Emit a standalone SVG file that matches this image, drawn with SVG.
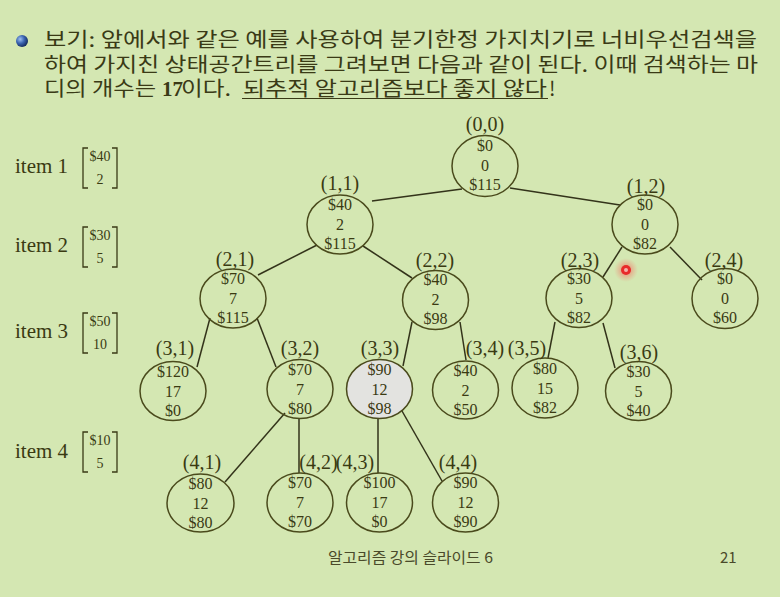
<svg xmlns="http://www.w3.org/2000/svg" width="780" height="597" viewBox="0 0 780 597">
<defs>
<style>
.bg{fill:#d4e7b2}
.kr{font-family:"Noto Sans CJK KR","Noto Sans",sans-serif;fill:#3a3a16}
.kt{font-size:20px}
.ft{font-size:15px;fill:#4a4a2a}
.lbl{font-family:"Liberation Serif",serif;fill:#3a3a12;font-size:20px;text-anchor:middle}
.val{font-family:"Liberation Serif",serif;fill:#3a3a12;font-size:16px;text-anchor:middle}
.item{font-family:"Liberation Serif",serif;fill:#3a3a12;font-size:21px}
.bv{font-family:"Liberation Serif",serif;fill:#3a3a12;font-size:14px;text-anchor:middle}
.ell{fill:none;stroke:#4a4a1c;stroke-width:1.5}
.gray{fill:#e3e3e0}
.edge{stroke:#33331a;stroke-width:1.5;fill:none}
.br{stroke:#3a3a16;stroke-width:1.3;fill:none}
</style>
<radialGradient id="ball" cx="0.35" cy="0.35" r="0.7">
<stop offset="0" stop-color="#9ec0f0"/>
<stop offset="0.5" stop-color="#3a64b0"/>
<stop offset="1" stop-color="#12285a"/>
</radialGradient>
<radialGradient id="glow" cx="0.5" cy="0.5" r="0.5">
<stop offset="0" stop-color="#ff3030" stop-opacity="0.6"/>
<stop offset="1" stop-color="#ff6060" stop-opacity="0"/>
</radialGradient>
</defs>
<rect class="bg" x="0" y="0" width="780" height="597"/>

<g id="header">
<circle cx="22" cy="41" r="6" fill="url(#ball)"/>
<text class="kr kt" x="44" y="47" textLength="713" lengthAdjust="spacingAndGlyphs">보기: 앞에서와 같은 예를 사용하여 분기한정 가지치기로 너비우선검색을</text>
<text class="kr kt" x="44" y="72" textLength="714" lengthAdjust="spacingAndGlyphs">하여 가지친 상태공간트리를 그려보면 다음과 같이 된다. 이때 검색하는 마</text>
<text class="kr kt" y="96"><tspan x="44" textLength="112" lengthAdjust="spacingAndGlyphs">디의 개수는</tspan><tspan x="162" style="font-family:'Liberation Serif',serif;font-weight:bold;font-size:21px">17</tspan><tspan x="181" textLength="50" lengthAdjust="spacingAndGlyphs">이다.</tspan><tspan x="243" textLength="304" lengthAdjust="spacingAndGlyphs">되추적 알고리즘보다 좋지 않다</tspan><tspan x="549">!</tspan></text>
<line x1="242" y1="98.5" x2="548" y2="98.5" stroke="#3a3a16" stroke-width="1.2"/>
</g>

<g id="items">
<text class="item" x="15" y="173">item 1</text>
<path class="br" d="M88,148 H83 V188 H88 M112,148 H117 V188 H112"/>
<text class="bv" x="100" y="161">$40</text>
<text class="bv" x="100" y="184">2</text>
<text class="item" x="15" y="252">item 2</text>
<path class="br" d="M88,227 H83 V267 H88 M112,227 H117 V267 H112"/>
<text class="bv" x="100" y="240">$30</text>
<text class="bv" x="100" y="263">5</text>
<text class="item" x="15" y="338">item 3</text>
<path class="br" d="M88,313 H83 V353 H88 M112,313 H117 V353 H112"/>
<text class="bv" x="100" y="326">$50</text>
<text class="bv" x="100" y="349">10</text>
<text class="item" x="15" y="458">item 4</text>
<path class="br" d="M88,432 H83 V472 H88 M112,432 H117 V472 H112"/>
<text class="bv" x="100" y="445">$10</text>
<text class="bv" x="100" y="468">5</text>
</g>

<g id="connectors">
<line class="edge" x1="462" y1="189" x2="372" y2="201"/>
<line class="edge" x1="510" y1="188" x2="620" y2="205"/>
<line class="edge" x1="317" y1="245" x2="258" y2="275"/>
<line class="edge" x1="363" y1="246" x2="412" y2="278"/>
<line class="edge" x1="622" y1="247" x2="603" y2="277"/>
<line class="edge" x1="670" y1="247" x2="702" y2="280"/>
<line class="edge" x1="210" y1="318" x2="197" y2="367"/>
<line class="edge" x1="257" y1="318" x2="276" y2="367"/>
<line class="edge" x1="412" y1="322" x2="403" y2="366"/>
<line class="edge" x1="460" y1="322" x2="466" y2="360"/>
<line class="edge" x1="555" y1="322" x2="548" y2="358"/>
<line class="edge" x1="603" y1="323" x2="615" y2="368"/>
<line class="edge" x1="285" y1="413" x2="225" y2="482"/>
<line class="edge" x1="299" y1="418" x2="299" y2="473"/>
<line class="edge" x1="378" y1="418" x2="378" y2="473"/>
<line class="edge" x1="402" y1="411" x2="442" y2="481"/>
</g>

<g id="n00"><ellipse class="ell" cx="485" cy="166" rx="33" ry="30.5"/><text class="lbl" x="485" y="131">(0,0)</text><text class="val" x="485" y="151">$0</text><text class="val" x="485" y="171">0</text><text class="val" x="485" y="190">$115</text></g>
<g id="n11"><ellipse class="ell" cx="340" cy="224.5" rx="33" ry="29.5"/><text class="lbl" x="340" y="190">(1,1)</text><text class="val" x="340" y="210">$40</text><text class="val" x="340" y="230">2</text><text class="val" x="340" y="249">$115</text></g>
<g id="n12"><ellipse class="ell" cx="645" cy="224.5" rx="33" ry="29.5"/><text class="lbl" x="646" y="193">(1,2)</text><text class="val" x="645" y="210">$0</text><text class="val" x="645" y="230">0</text><text class="val" x="645" y="249">$82</text></g>
<g id="n21"><ellipse class="ell" cx="233" cy="298.5" rx="33" ry="29.5"/><text class="lbl" x="235" y="266">(2,1)</text><text class="val" x="233" y="284">$70</text><text class="val" x="233" y="304">7</text><text class="val" x="233" y="323">$115</text></g>
<g id="n22"><ellipse class="ell" cx="435.5" cy="300" rx="33" ry="29.5"/><text class="lbl" x="435" y="267">(2,2)</text><text class="val" x="435.5" y="285">$40</text><text class="val" x="435.5" y="305">2</text><text class="val" x="435.5" y="324">$98</text></g>
<g id="n23"><ellipse class="ell" cx="579" cy="298" rx="33" ry="29.5"/><text class="lbl" x="580" y="267">(2,3)</text><text class="val" x="579" y="284">$30</text><text class="val" x="579" y="304">5</text><text class="val" x="579" y="323">$82</text></g>
<g id="n24"><ellipse class="ell" cx="725" cy="298.5" rx="33" ry="30"/><text class="lbl" x="724" y="267">(2,4)</text><text class="val" x="725" y="284">$0</text><text class="val" x="725" y="304">0</text><text class="val" x="725" y="323">$60</text></g>
<g id="n31"><ellipse class="ell" cx="173" cy="391" rx="33" ry="29.5"/><text class="lbl" x="175" y="355">(3,1)</text><text class="val" x="173" y="377">$120</text><text class="val" x="173" y="397">17</text><text class="val" x="173" y="416">$0</text></g>
<g id="n32"><ellipse class="ell" cx="300" cy="389" rx="33" ry="29.5"/><text class="lbl" x="300" y="355">(3,2)</text><text class="val" x="300" y="375">$70</text><text class="val" x="300" y="395">7</text><text class="val" x="300" y="414">$80</text></g>
<g id="n33"><ellipse class="ell gray" cx="379.5" cy="389" rx="33" ry="29.5"/><text class="lbl" x="380" y="355">(3,3)</text><text class="val" x="379.5" y="375">$90</text><text class="val" x="379.5" y="395">12</text><text class="val" x="379.5" y="414">$98</text></g>
<g id="n34"><ellipse class="ell" cx="465.5" cy="390" rx="33" ry="29"/><text class="lbl" x="485" y="355">(3,4)</text><text class="val" x="465.5" y="376">$40</text><text class="val" x="465.5" y="396">2</text><text class="val" x="465.5" y="415">$50</text></g>
<g id="n35"><ellipse class="ell" cx="545" cy="388" rx="33" ry="30"/><text class="lbl" x="527" y="355">(3,5)</text><text class="val" x="545" y="374">$80</text><text class="val" x="545" y="394">15</text><text class="val" x="545" y="413">$82</text></g>
<g id="n36"><ellipse class="ell" cx="638.5" cy="391" rx="33" ry="29.5"/><text class="lbl" x="639" y="359">(3,6)</text><text class="val" x="638.5" y="377">$30</text><text class="val" x="638.5" y="397">5</text><text class="val" x="638.5" y="416">$40</text></g>
<g id="n41"><ellipse class="ell" cx="200.5" cy="503" rx="33.5" ry="29"/><text class="lbl" x="202" y="469">(4,1)</text><text class="val" x="200.5" y="489">$80</text><text class="val" x="200.5" y="509">12</text><text class="val" x="200.5" y="528">$80</text></g>
<g id="n42"><ellipse class="ell" cx="300" cy="502.5" rx="33" ry="29.5"/><text class="lbl" x="318.5" y="469">(4,2)</text><text class="val" x="300" y="488">$70</text><text class="val" x="300" y="508">7</text><text class="val" x="300" y="527">$70</text></g>
<g id="n43"><ellipse class="ell" cx="379.5" cy="502.5" rx="33" ry="29.5"/><text class="lbl" x="355" y="469">(4,3)</text><text class="val" x="379.5" y="488">$100</text><text class="val" x="379.5" y="508">17</text><text class="val" x="379.5" y="527">$0</text></g>
<g id="n44"><ellipse class="ell" cx="465.5" cy="502.5" rx="33" ry="29.5"/><text class="lbl" x="458" y="469">(4,4)</text><text class="val" x="465.5" y="488">$90</text><text class="val" x="465.5" y="508">12</text><text class="val" x="465.5" y="527">$90</text></g>

<g id="pointer">
<circle cx="626" cy="270" r="12" fill="url(#glow)"/>
<circle cx="626" cy="270" r="5" fill="#e82a2a"/>
<circle cx="626" cy="270" r="2" fill="#f4b0a8"/>
</g>

<g id="footer">
<text class="kr ft" x="328" y="563" textLength="165" lengthAdjust="spacingAndGlyphs">알고리즘 강의 슬라이드 6</text>
<text class="kr ft" x="720" y="563">21</text>
</g>
</svg>
